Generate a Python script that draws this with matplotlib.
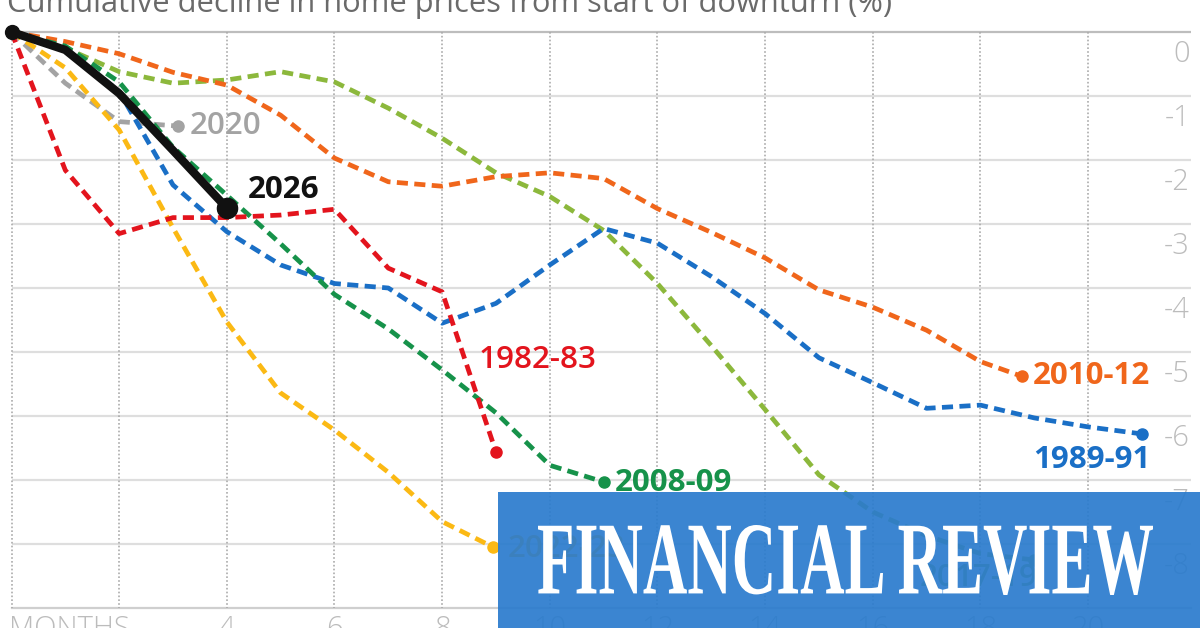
import matplotlib
matplotlib.use("Agg")
import matplotlib.pyplot as plt
from matplotlib.textpath import TextPath
from matplotlib.patches import PathPatch, Rectangle
from matplotlib.transforms import Affine2D
from matplotlib.font_manager import FontProperties

# ---------------- data ----------------
title = "Cumulative decline in home prices from start of downturn (%)"

m_2026 = [0, 1, 2, 3, 4]
v_2026 = [0, -0.28, -0.96, -1.85, -2.75]

m_2020 = [0, 1, 2, 3.1]
v_2020 = [0, -0.8, -1.4, -1.47]

m_1982 = [0, 1, 2, 3, 4, 5, 6, 7, 8, 9]
v_1982 = [0, -2.16, -3.15, -2.9, -2.9, -2.86, -2.77, -3.69, -4.06, -6.56]

m_1989 = list(range(22))
v_1989 = [0, -0.25, -0.93, -2.39, -3.12, -3.64, -3.93, -4.0, -4.55, -4.24, -3.64,
          -3.07, -3.3, -3.82, -4.4, -5.09, -5.48, -5.88, -5.83, -6.03, -6.17, -6.28]

m_2008 = list(range(12))
v_2008 = [0, -0.22, -0.78, -1.8, -2.55, -3.31, -4.1, -4.64, -5.28, -5.95, -6.77, -7.03]

m_2010 = list(range(19)) + [18.77]
v_2010 = [0, -0.15, -0.34, -0.63, -0.83, -1.3, -1.97, -2.34, -2.41, -2.26, -2.2,
          -2.29, -2.76, -3.13, -3.53, -4.03, -4.3, -4.66, -5.15, -5.38]

m_2017 = list(range(20))
v_2017 = [0, -0.25, -0.62, -0.8, -0.75, -0.62, -0.78, -1.19, -1.66, -2.2, -2.57,
          -3.1, -3.93, -4.9, -5.9, -6.92, -7.5, -7.87, -8.15, -8.25]

m_2022 = [0, 1, 2, 3, 4, 5, 6, 7, 8, 8.95]
v_2022 = [0, -0.56, -1.53, -3.06, -4.53, -5.64, -6.22, -6.88, -7.65, -8.05]

y_ticks = [0, -1, -2, -3, -4, -5, -6, -7, -8]
x_ticks = [4, 6, 8, 10, 12, 14, 16, 18, 20]
x_grid = [0, 2, 4, 6, 8, 10, 12, 14, 16, 18, 20]
x_first_label = "MONTHS"
brand = "FINANCIAL REVIEW"

# ---------------- figure ----------------
W, H = 1200, 628
fig = plt.figure(figsize=(W / 100, H / 100), dpi=100)
fig.patch.set_facecolor("white")
ax = fig.add_axes([0, 0, 1, 1])
ax.axis("off")

X0, DX = 11.5, 53.83      # pixel of month 0, pixels per month
Y0, DY = 32.0, 64.0       # pixel of 0 %, pixels per 1 %
ax.set_xlim(-X0 / DX, (W - X0) / DX)
ax.set_ylim((Y0 - H) / DY, Y0 / DY)

FAM = ["Open Sans", "DejaVu Sans"]
x_right = (1191 - X0) / DX

# grid
for t in y_ticks:
    col = "#bdbdbd" if t == 0 else "#dedede"
    ax.plot([0, x_right], [t, t], color=col, lw=1.6, zorder=1, solid_capstyle="butt")
ax.plot([0, x_right], [-9, -9], color="#cfcfcf", lw=1.6, zorder=1)
for g in x_grid:
    ax.plot([g, g], [0, -9], color="#ababab", lw=1.2, ls=(0, (1, 1.3)), zorder=1)

# tick labels
TK = 21
for t in y_ticks:
    ax.text((1190 - X0) / DX, t - 0.35, f"{t}", ha="right", va="center", fontsize=TK,
            color="#bcbcbc", family=FAM, fontweight="light", zorder=2)
ax.text(-0.05, -9.1, x_first_label, ha="left", va="top", fontsize=TK,
        color="#bcbcbc", family=FAM, fontweight="light")
for t in x_ticks:
    ax.text(t, -9.1, f"{t}", ha="center", va="top", fontsize=TK,
            color="#bcbcbc", family=FAM, fontweight="light")

ax.text(-0.08, (Y0 - 12) / DY, title, ha="left", va="baseline", fontsize=22.2,
        color="#6a6a6a", family=FAM)

# series
plt.rcParams["lines.scale_dashes"] = False
DASH = (0, (8, 4.6))
LBL = 22.6
series = [
    (m_2020, v_2020, "#a3a3a3", "2020", (8, 0), "left", "semibold"),
    (m_2022, v_2022, "#fbb914", "2022-23", (10, -1), "left", "semibold"),
    (m_2017, v_2017, "#8cb83c", "2017-19", (2, -13), "right", "semibold"),
    (m_2010, v_2010, "#f0661b", "2010-12", (8.0, 0), "left", "bold"),
    (m_1989, v_1989, "#1a6fc6", "1989-91", (6, -19), "right", "bold"),
    (m_2008, v_2008, "#16924a", "2008-09", (8.3, -1), "left", "bold"),
    (m_1982, v_1982, "#e3141d", "1982-83", (-12.5, 66), "left", "semibold"),
]
for i, (mx, vy, col, lab, off, ha, wt) in enumerate(series):
    z = 3 + i
    ax.plot(mx, vy, color=col, lw=3.4, ls=DASH, zorder=z, dash_capstyle="butt")
    ax.plot(mx[-1:], vy[-1:], "o", color=col, ms=8, zorder=z)
    ax.annotate(lab, xy=(mx[-1], vy[-1]), xytext=off, textcoords="offset points",
                ha=ha, va="center", fontsize=LBL, color=col, family=FAM,
                fontweight=wt, zorder=z)

ax.plot(m_2026, v_2026, color="#111111", lw=6, zorder=20, solid_capstyle="round",
        solid_joinstyle="round")
ax.plot(m_2026[:1], v_2026[:1], "o", color="#111111", ms=10, zorder=21)
ax.plot(m_2026[-1:], v_2026[-1:], "o", color="#111111", ms=14.5, zorder=21)
ax.annotate("2026", xy=(m_2026[-1], v_2026[-1]), xytext=(15, 13),
            textcoords="offset points", ha="left", va="center", fontsize=LBL,
            color="#111111", family=FAM, fontweight="bold", zorder=21)

# banner
fig.add_artist(Rectangle((498 / W, 0), (W - 498) / W, (H - 492) / H,
                         transform=fig.transFigure, facecolor="#2a7bcd",
                         edgecolor="none", alpha=0.92, zorder=30))
fp = FontProperties(family="Liberation Serif", weight="bold")
tp = TextPath((0, 0), brand, size=100, prop=fp)
bb = tp.get_extents()
bx0, bx1, by_top, by_bot = 538, 1153, 525, 595
tr = (Affine2D().translate(-bb.x0, -bb.y0)
      .scale((bx1 - bx0) / bb.width / W, (by_bot - by_top) / bb.height / H)
      .translate(bx0 / W, (H - by_bot) / H))
fig.add_artist(PathPatch(tr.transform_path(tp), transform=fig.transFigure,
                         facecolor="white", edgecolor="none", zorder=31))

fig.savefig("out.png", dpi=100)
